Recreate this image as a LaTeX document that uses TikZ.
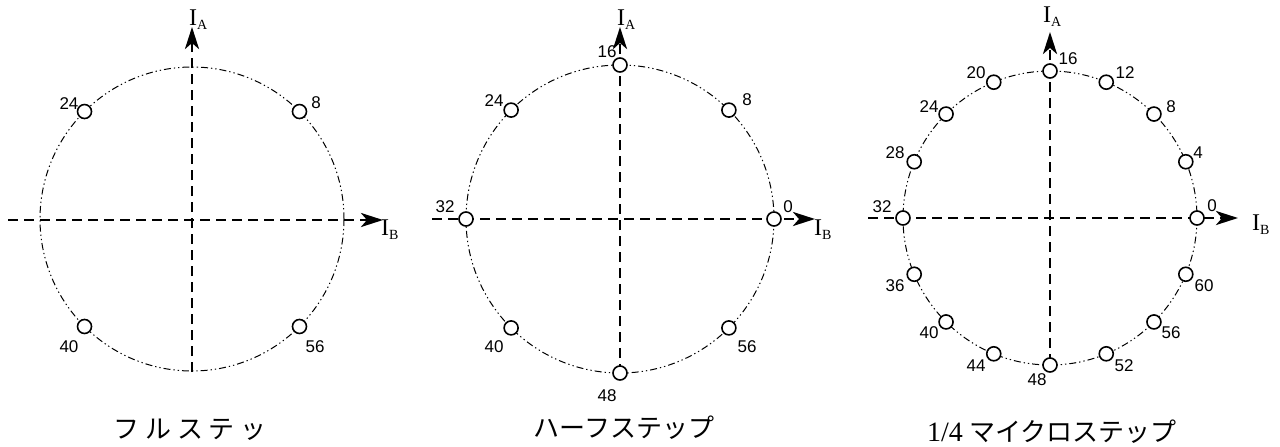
\documentclass[tikz,border=0pt]{standalone}
\usepackage{fontspec}
\setmainfont{Liberation Serif}
\newfontfamily\labfont{Liberation Sans}
\newfontfamily\jpfont{Noto Sans CJK JP}
\usetikzlibrary{arrows.meta,calc}
\newcommand\curlab[1]{{\fontsize{24}{24}\selectfont I}\raisebox{-4pt}{\fontsize{14}{14}\selectfont #1}}
\tikzset{
  axisline/.style={line width=2.9pt, dash pattern=on 10pt off 6pt,
    -{Stealth[length=22pt,width=14pt,inset=6pt]}},
  ring/.style={line width=1pt, dash pattern=on 7pt off 3pt on 1.3pt off 3pt on 1.3pt off 3pt},
  stepdot/.style={circle, draw, fill=white, line width=1.6pt, minimum size=14pt, inner sep=0pt},
  numlab/.style={font=\labfont\fontsize{17}{17}\selectfont, inner sep=0pt},
  axlab/.style={inner sep=0pt, anchor=base west},
  caption/.style={font=\fontsize{26}{26}\selectfont, inner sep=0pt}
}
\begin{document}
\begin{tikzpicture}[x=1pt,y=-1pt]
\useasboundingbox (0,0) rectangle (1280,447);
% ---------- Panel 1: full step ----------
\coordinate (c1) at (192,219);
\draw[ring] (c1) circle[radius=152];
\coordinate (v1b) at (192,372);
\coordinate (v1t) at (192,27);
\coordinate (h1l) at (8,220);
\coordinate (h1r) at (383,220);
\draw[axisline] (v1b) -- (v1t);
\draw[axisline] (h1l) -- (h1r);
\foreach \a/\n in {45/8,135/24,225/40,315/56}{
  \node[stepdot] (p1d\n) at ($(c1)+(\a:152 and -152)$) {};
}
\node[numlab] (p1l24) at (69,104) {24};
\node[numlab] (p1l8) at (316,103) {8};
\node[numlab] (p1l40) at (69,347) {40};
\node[numlab] (p1l56) at (315,347) {56};
\node[axlab] (p1ia) at (189,25) {\curlab{A}};
\node[axlab] (p1ib) at (381,235) {\curlab{B}};
\node[caption] (cap1) at (190,430) {\jpfont フ ル ス テ ッ};
% ---------- Panel 2: half step ----------
\coordinate (c2) at (620,219);
\draw[ring] (c2) circle[radius=154];
\coordinate (v2b) at (620,374);
\coordinate (v2t) at (620,27);
\coordinate (h2l) at (432,219);
\coordinate (h2r) at (815,219);
\draw[axisline] (v2b) -- (v2t);
\draw[axisline] (h2l) -- (h2r);
\foreach \a/\n in {0/0,45/8,90/16,135/24,180/32,225/40,270/48,315/56}{
  \node[stepdot] (p2d\n) at ($(c2)+(\a:154 and -154)$) {};
}
\node[numlab] (p2l16) at (607,52) {16};
\node[numlab] (p2l24) at (494,101) {24};
\node[numlab] (p2l8) at (747,100) {8};
\node[numlab] (p2l32) at (445,207) {32};
\node[numlab] (p2l0) at (788,207) {0};
\node[numlab] (p2l40) at (494,347) {40};
\node[numlab] (p2l56) at (747,347) {56};
\node[numlab] (p2l48) at (607,396) {48};
\node[axlab] (p2ia) at (617,25) {\curlab{A}};
\node[axlab] (p2ib) at (814,235) {\curlab{B}};
\node[caption] (cap2) at (624,428) {\jpfont ハーフステップ};
% ---------- Panel 3: 1/4 micro step ----------
\coordinate (c3) at (1050,218);
\draw[ring] (c3) circle[radius=147];
\coordinate (v3b) at (1050,364);
\coordinate (v3t) at (1050,32);
\coordinate (h3l) at (868,218);
\coordinate (h3r) at (1238,218);
\draw[axisline] (v3b) -- (v3t);
\draw[axisline] (h3l) -- (h3r);
\foreach \k in {0,...,15}{
  \pgfmathtruncatemacro\n{4*\k}
  \node[stepdot] (p3d\n) at ($(c3)+(22.5*\k:147 and -147)$) {};
}
\node[numlab] (p3l16) at (1068,59) {16};
\node[numlab] (p3l20) at (976,73) {20};
\node[numlab] (p3l12) at (1125,73) {12};
\node[numlab] (p3l24) at (929,107) {24};
\node[numlab] (p3l8) at (1171,107) {8};
\node[numlab] (p3l28) at (895,153) {28};
\node[numlab] (p3l4) at (1198,153) {4};
\node[numlab] (p3l32) at (882,207) {32};
\node[numlab] (p3l0) at (1212,206) {0};
\node[numlab] (p3l36) at (895,286) {36};
\node[numlab] (p3l60) at (1204,286) {60};
\node[numlab] (p3l40) at (929,333) {40};
\node[numlab] (p3l56) at (1171,333) {56};
\node[numlab] (p3l44) at (976,366) {44};
\node[numlab] (p3l52) at (1124,366) {52};
\node[numlab] (p3l48) at (1037,380) {48};
\node[axlab] (p3ia) at (1043,22) {\curlab{A}};
\node[axlab] (p3ib) at (1252,230) {\curlab{B}};
\node[caption] (cap3) at (1052,432) {{\fontsize{28}{28}\selectfont 1/4} \jpfont マイクロステップ};
\end{tikzpicture}
\end{document}
